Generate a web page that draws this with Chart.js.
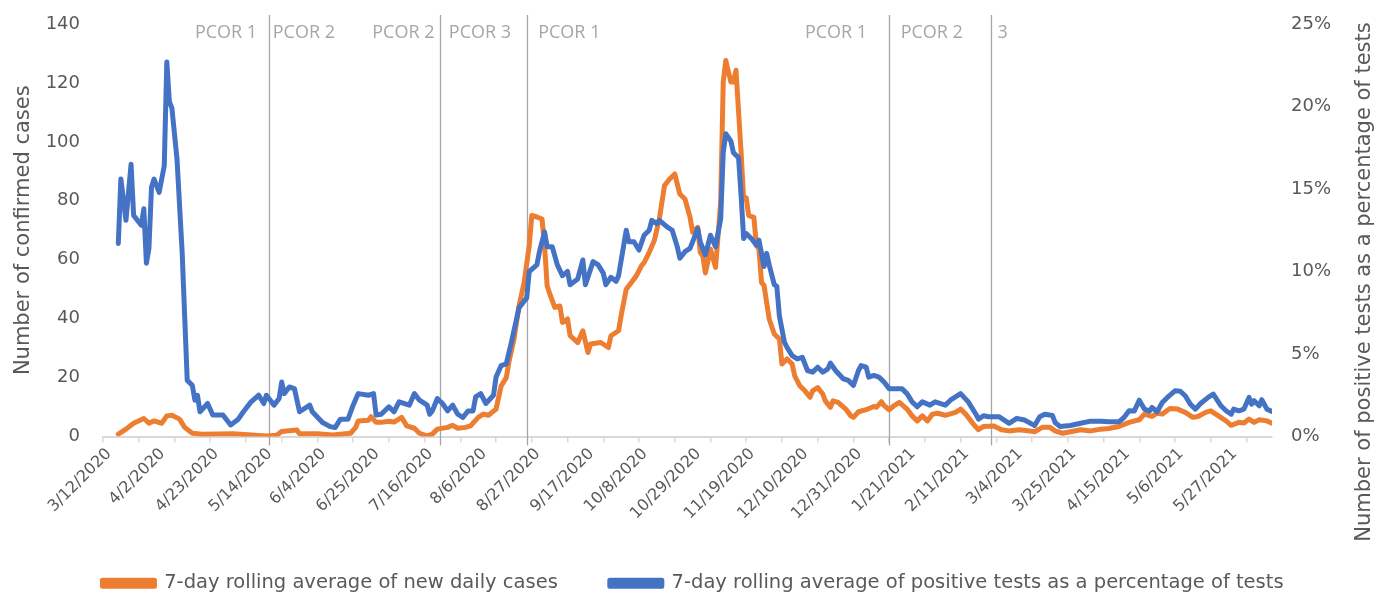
<!DOCTYPE html>
<html><head><meta charset="utf-8">
<script src="https://cdn.jsdelivr.net/npm/chart.js@4.4.1/dist/chart.umd.min.js"></script>
<style>html,body{margin:0;padding:0;background:#fff;overflow:hidden}#wrap{width:1375px;height:593px;position:relative}</style>
</head><body><div id="wrap"><canvas id="c"></canvas></div>
<script>
// x values are day offsets from 3/12/2020
const tickLabels = ["3/12/2020","4/2/2020","4/23/2020","5/14/2020","6/4/2020","6/25/2020","7/16/2020","8/6/2020","8/27/2020","9/17/2020","10/8/2020","10/29/2020","11/19/2020","12/10/2020","12/31/2020","1/21/2021","2/11/2021","3/4/2021","3/25/2021","4/15/2021","5/6/2021","5/27/2021"];

const caseDays = [6,9,12,16,18,20,23,25,27,30,32,35,39,51,64,68,70,76,77,84,90,97,99,100,104,105,107,109,112,114,117,119,122,124,127,129,131,135,137,139,142,144,147,149,151,154,156,158,159,161,163,165,167,168,170,172,173,174,175,177,179,180,182,183,186,188,190,191,195,198,199,202,203,205,207,209,211,212,214,216,218,220,222,224,226,228,230,231,233,234,235,236,238,240,242,243,244,246,247,248,250,251,252,253,255,256,257,258,259,261,263,265,266,268,270,271,273,275,277,278,280,282,283,285,286,288,291,293,294,296,299,302,303,305,306,308,310,312,315,317,319,321,323,325,327,330,334,336,338,341,343,345,349,352,355,359,363,365,368,371,373,376,379,383,387,391,394,398,402,406,408,411,413,415,418,421,424,427,429,432,434,437,440,442,445,447,449,451,453,456,458];
const caseValues = [0.8,2.5,4.5,6.1,4.5,5.3,4.5,7.0,7.2,5.9,3.1,1.1,0.8,0.9,0.2,0.4,1.7,2.2,0.9,0.9,0.5,1.1,3.1,5.3,5.5,6.7,4.8,4.8,5.2,4.9,6.5,3.6,2.8,1.1,0.2,0.8,2.5,3.1,3.8,2.8,3.1,3.6,6.5,7.6,7.2,9.3,17.2,20,25.1,33,44.4,52.3,64.8,75,74.5,73.8,64.8,51.2,48.5,43.8,44.3,38.7,39.9,34.2,31.9,35.9,28.5,31.4,31.9,30.2,34.2,35.9,41,50,52.3,54.6,58,59,62.5,66.5,74,85.2,87.4,89.1,82.3,80.6,74.4,69.3,71,62.5,61.2,55.5,63.6,57.4,79.5,120.3,127.6,120.3,120.3,124.3,96.5,80.6,81,75,74.4,64.8,63.6,52.3,51.2,39.9,34.8,33.1,24.6,26.3,24.6,20.6,17.2,15.5,13.3,15.5,16.6,14.4,12.1,9.9,12.1,11.6,9.3,7.0,6.5,8.4,9.1,10.2,9.9,11.8,10.5,9.1,10.5,11.6,9.3,7.0,5.3,7.0,5.3,7.6,7.9,7.2,8.2,9.3,7.6,4.2,2.3,3.4,3.6,2.3,1.9,2.3,1.9,1.6,3.1,3.1,1.9,1.1,1.6,2.3,1.9,2.5,2.7,3.4,4.8,5.7,7.6,6.8,7.9,7.6,9.5,9.3,8.2,6.5,6.8,8.2,8.7,7.0,5.3,3.8,4.8,4.6,5.9,4.8,5.7,5.3,4.5];

const posDays = [6,7,9,11,12,15,16,17,18,19,20,22,24,25,26,27,29,31,32,33,35,36,37,38,41,43,47,50,53,55,58,61,63,64,67,69,70,71,73,75,77,81,82,86,89,91,93,96,98,100,104,106,107,109,112,114,116,120,122,124,127,128,129,131,133,135,137,139,141,143,145,146,148,150,153,154,156,158,160,162,163,166,167,170,171,173,174,176,178,180,182,183,186,188,189,192,194,196,197,199,201,202,205,206,208,210,212,214,215,217,218,221,223,225,226,228,230,231,233,234,236,238,240,242,243,244,246,247,249,250,251,252,254,256,257,259,260,261,263,264,265,267,268,270,272,274,276,278,280,282,284,285,287,290,292,294,296,297,299,300,302,304,306,308,310,313,315,317,319,321,324,326,330,332,336,339,342,343,345,347,351,355,358,361,364,365,367,369,372,373,375,379,383,387,391,394,398,400,402,404,406,408,410,411,413,415,417,420,422,424,426,428,430,433,435,438,440,442,443,445,447,449,450,451,453,454,456,458];
const posValues = [11.7,15.6,13.1,16.5,13.4,12.8,13.8,10.5,11.4,15.1,15.6,14.8,16.4,22.7,20.3,19.9,16.8,11.2,7.3,3.4,3.1,2.2,2.5,1.5,2.0,1.3,1.3,0.7,1.05,1.5,2.1,2.5,2.0,2.5,1.9,2.3,3.3,2.6,3.0,2.9,1.5,1.9,1.5,0.85,0.6,0.55,1.05,1.05,1.9,2.6,2.5,2.6,1.3,1.35,1.8,1.5,2.1,1.9,2.6,2.2,1.9,1.35,1.55,2.3,2.0,1.55,1.9,1.35,1.15,1.55,1.55,2.4,2.6,2.0,2.5,3.6,4.3,4.4,5.7,7.1,7.8,8.4,10.0,10.4,11.2,12.4,11.5,11.5,10.4,9.75,10.0,9.2,9.55,10.7,9.2,10.6,10.4,9.9,9.2,9.65,9.4,9.75,12.5,11.8,11.8,11.3,12.2,12.5,13.1,12.9,13.1,12.7,12.5,11.5,10.8,11.2,11.4,11.8,12.6,11.8,11.0,12.2,11.5,13.2,17.2,18.35,17.9,17.2,16.9,14.6,12.0,12.3,12.0,11.6,11.9,10.3,11.1,10.4,9.2,9.1,7.3,5.7,5.4,4.9,4.7,4.8,4.0,3.9,4.2,3.9,4.1,4.45,4.0,3.5,3.4,3.1,4.0,4.3,4.2,3.6,3.7,3.6,3.3,2.9,2.9,2.9,2.6,2.1,1.8,2.1,1.9,2.1,1.9,2.2,2.6,2.1,1.35,1.05,1.26,1.2,1.2,0.8,1.1,1.0,0.75,0.67,1.2,1.35,1.27,0.85,0.6,0.67,0.8,0.93,0.93,0.89,0.89,1.15,1.56,1.54,2.2,1.66,1.54,1.76,1.5,2.06,2.37,2.77,2.75,2.47,1.96,1.66,2.0,2.37,2.57,1.86,1.56,1.35,1.66,1.56,1.66,2.37,1.96,2.17,1.86,2.23,1.66,1.52];

const phaseLineDays = [65, 132, 166, 308, 348];
const phaseLabelDays = [36, 66.5, 105.5, 135.5, 170.5, 275, 312.5, 350.5];
const phaseLabels = ["PCOR 1","PCOR 2","PCOR 2","PCOR 3","PCOR 1","PCOR 1","PCOR 2","3"];

const seriesNames = ["7-day rolling average of new daily cases","7-day rolling average of positive tests as a percentage of tests"];
const leftTitle = "Number of confirmed cases";
const rightTitle = "Number of positive tests as a percentage of tests";

const FONT = "'DejaVu Sans', sans-serif";
const LBLFONT = "'Open Sans', sans-serif";
const TXT = '#595959';

const toPts = (xs, ys) => xs.map((x, i) => ({x: x, y: ys[i]}));

const annotPlugin = {
  id: 'annot',
  beforeDatasetsDraw(chart) {
    const {ctx, chartArea, scales} = chart;
    ctx.save();
    ctx.strokeStyle = '#a6a6a6';
    ctx.lineWidth = 1.3;
    phaseLineDays.forEach(d => {
      const x = Math.round(scales.x.getPixelForValue(d)) + 0.5;
      ctx.beginPath();
      ctx.moveTo(x, chartArea.top - 9);
      ctx.lineTo(x, chartArea.bottom + 9);
      ctx.stroke();
    });
    ctx.restore();
  },
  afterDraw(chart) {
    const {ctx, chartArea, scales} = chart;
    ctx.save();
    ctx.fillStyle = '#a6a6a6';
    ctx.font = "18px " + LBLFONT;
    ctx.textAlign = 'left';
    ctx.textBaseline = 'middle';
    phaseLabelDays.forEach((d, i) => {
      ctx.fillText(phaseLabels[i], scales.x.getPixelForValue(d), chartArea.top + 9);
    });
    // right axis title, reading bottom-to-top
    ctx.fillStyle = TXT;
    ctx.font = "21px " + FONT;
    ctx.textAlign = 'center';
    ctx.textBaseline = 'middle';
    ctx.translate(chart.width - 10, 282);
    ctx.rotate(-Math.PI / 2);
    ctx.fillText(rightTitle, 0, 0);
    ctx.restore();
  }
};

new Chart(document.getElementById('c'), {
  type: 'line',
  data: {
    datasets: [
      {label: seriesNames[0], data: toPts(caseDays, caseValues), yAxisID: 'y', borderColor: '#ED7D31', backgroundColor: '#ED7D31', borderWidth: 5, pointRadius: 0, tension: 0, borderJoinStyle: 'round', borderCapStyle: 'round', order: 1},
      {label: seriesNames[1], data: toPts(posDays, posValues), yAxisID: 'y1', borderColor: '#4472C4', backgroundColor: '#4472C4', borderWidth: 5, pointRadius: 0, tension: 0, borderJoinStyle: 'round', borderCapStyle: 'round', order: 0}
    ]
  },
  options: {
    responsive: true,
    maintainAspectRatio: false,
    animation: false,
    layout: {padding: {top: 24, right: 0, left: 11, bottom: -10}},
    plugins: {
      tooltip: {enabled: false},
      legend: {
        position: 'bottom',
        labels: {
          color: TXT, font: {family: FONT, size: 19.5},
          boxWidth: 52, boxHeight: 6, padding: 52,
          sort: (a, b) => a.datasetIndex - b.datasetIndex
        }
      }
    },
    scales: {
      x: {
        type: 'linear', min: 0, max: 458,
        afterFit: s => { s.paddingLeft = 0; s.paddingRight = 0; s.height = 85; },
        grid: {drawOnChartArea: false, drawTicks: true, tickLength: 6,
               color: c => (c.tick && c.tick.value % 14 === 0) ? '#d9d9d9' : 'rgba(0,0,0,0)', lineWidth: 1.5},
        border: {color: '#d9d9d9', width: 2},
        ticks: {
          stepSize: 7, autoSkip: false, includeBounds: false,
          minRotation: 45, maxRotation: 45, padding: 2, labelOffset: 6,
          color: TXT, font: {family: FONT, size: 16},
          callback: v => (v % 21 === 0 && tickLabels[v / 21]) ? tickLabels[v / 21] : ''
        }
      },
      y: {
        position: 'left', min: 0, max: 140,
        afterFit: s => { s.paddingTop = 0; s.paddingBottom = 0; s.width = 92; },
        grid: {display: false, drawTicks: false},
        border: {display: false},
        ticks: {stepSize: 20, color: TXT, font: {family: FONT, size: 18}, padding: 23},
        title: {display: true, text: leftTitle, color: TXT, font: {family: FONT, size: 21}, padding: {top: 0, bottom: 8}}
      },
      y1: {
        position: 'right', min: 0, max: 25,
        afterFit: s => { s.paddingTop = 0; s.paddingBottom = 0; s.width = 103; },
        grid: {display: false, drawTicks: false},
        border: {display: false},
        ticks: {stepSize: 5, color: TXT, font: {family: FONT, size: 18}, padding: 19, callback: v => v + '%'}
      }
    }
  },
  plugins: [annotPlugin]
});
</script>
</body></html>
